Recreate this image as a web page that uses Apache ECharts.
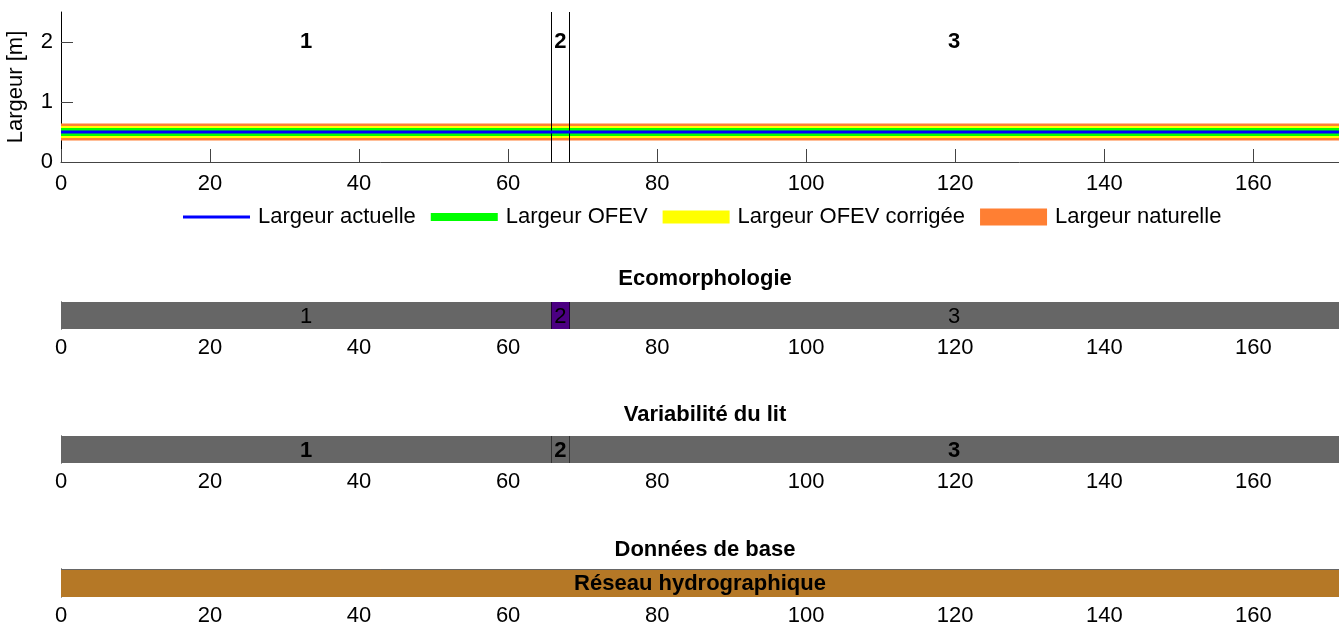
<!DOCTYPE html>
<html>
<head>
<meta charset="utf-8">
<script src="https://cdn.jsdelivr.net/npm/echarts@6/dist/echarts.min.js"></script>
<style>
  html, body { margin: 0; padding: 0; background: #fff; }
  #chart { width: 1339px; height: 625px; }
</style>
</head>
<body>
<div id="chart"></div>
<script>
// ---------- DATA ----------
const positions = [0, 65.8, 68.2, 171.5];          // segment boundaries (m along stream)
const segmentLabels = ['1', '2', '3'];
const largeurActuelle = [0.5, 0.5, 0.5, 0.5];
const largeurOFEV = [0.5, 0.5, 0.5, 0.5];
const largeurOFEVCorrigee = [0.5, 0.5, 0.5, 0.5];
const largeurNaturelle = [0.5, 0.5, 0.5, 0.5];
const ecomorphClasses = ['gris', 'violet', 'gris'];
const variabiliteClasses = ['gris', 'gris', 'gris'];
const donneesBase = ['Réseau hydrographique'];
const xTicks = [0, 20, 40, 60, 80, 100, 120, 140, 160];
const yTicks = [0, 1, 2];
const legendNames = ['Largeur actuelle', 'Largeur OFEV', 'Largeur OFEV corrigée', 'Largeur naturelle'];
const titles = ['Ecomorphologie', 'Variabilité du lit', 'Données de base'];

// ---------- STYLE ----------
const FONT = "'Liberation Sans', Arial, Helvetica, sans-serif";
const FS = 22;
const classColors = { gris: '#666666', violet: '#4b0082' };
const baseColor = '#b57826';
const X_MAX = positions[positions.length - 1];
const plotLeft = 61;

const ptsOf = arr => positions.map((x, i) => [x, arr[i]]);
const mids = segmentLabels.map((l, i) => [(positions[i] + positions[i + 1]) / 2, 2.0, l]);

function xAxisFor(gridIndex, main) {
  return {
    type: 'value', gridIndex, min: 0, max: X_MAX,
    axisLine: { show: main, lineStyle: { color: '#444', width: 1 } },
    axisTick: { show: main, inside: true, length: 13, customValues: xTicks, lineStyle: { color: '#444' } },
    axisLabel: { customValues: xTicks, color: '#000', fontSize: FS, fontFamily: FONT, margin: main ? 11 : 8 },
    splitLine: { show: false }
  };
}
function stripY(gridIndex) {
  return {
    type: 'value', gridIndex, min: 0, max: 1,
    axisLine: { show: true, onZero: false, lineStyle: { color: '#000', width: 1 } },
    axisTick: { show: false }, axisLabel: { show: false }, splitLine: { show: false }
  };
}
function stripSeries(idx, items, bold, topBorder, boundaries, boundaryColor) {
  return {
    type: 'custom', xAxisIndex: idx, yAxisIndex: idx, z: 2,
    data: items,
    renderItem(params, api) {
      const x0 = api.value(0), x1 = api.value(1);
      const pTL = api.coord([x0, 1]);
      const pBR = api.coord([x1, 0]);
      const item = items[params.dataIndex];
      const w = pBR[0] - pTL[0], h = pBR[1] - pTL[1];
      const children = [
        { type: 'rect', shape: { x: pTL[0], y: pTL[1], width: w, height: h }, style: { fill: item[3] } },
        { type: 'text', x: pTL[0] + w / 2, y: pTL[1] + h / 2 + 1,
          style: { text: item[2], fill: '#000', font: (bold ? 'bold ' : '') + FS + 'px ' + FONT, align: 'center', verticalAlign: 'middle' } }
      ];
      if (topBorder) children.push({ type: 'line', shape: { x1: pTL[0], y1: pTL[1] + 0.5, x2: pBR[0], y2: pTL[1] + 0.5 }, style: { stroke: '#666', lineWidth: 1 } });
      return { type: 'group', children };
    },
    markLine: boundaries ? {
      silent: true, symbol: 'none', label: { show: false },
      lineStyle: { color: boundaryColor, width: 1, type: 'solid' },
      data: boundaries.map(v => ({ xAxis: v }))
    } : undefined
  };
}
const segItems = (classes) => segmentLabels.map((l, i) => [positions[i], positions[i + 1], l, classColors[classes[i]]]);

const lineSeries = (name, arr, color, width, z) => ({
  name, type: 'line', xAxisIndex: 0, yAxisIndex: 0, data: ptsOf(arr), symbol: 'none', z,
  color, lineStyle: { color, width, cap: 'butt' }, silent: true
});
const iconPath = (h) => {
  const y0 = (17 - h) / 2, y1 = y0 + h;
  return `path://M0,0 M67,17 M0,${y0} L67,${y0} L67,${y1} L0,${y1} Z`;
};

const gridBase = { left: plotLeft, right: 0, outerBoundsMode: 'none', containLabel: false };

const chart = echarts.init(document.getElementById('chart'), null, { renderer: 'canvas' });
chart.setOption({
  animation: false,
  backgroundColor: '#fff',
  textStyle: { fontFamily: FONT },
  title: titles.map((t, i) => ({
    text: t, left: 700, top: [263, 399, 534][i], textAlign: 'center',
    textStyle: { fontSize: FS, fontWeight: 'bold', color: '#000', fontFamily: FONT }
  })),
  legend: {
    left: 178, top: 201, itemWidth: 67, itemHeight: 17, itemGap: 15,
    textStyle: { fontSize: FS, color: '#000', fontFamily: FONT, padding: [0, 0, 0, 3] },
    data: [
      { name: legendNames[0], icon: iconPath(3) },
      { name: legendNames[1], icon: iconPath(8) },
      { name: legendNames[2], icon: iconPath(13) },
      { name: legendNames[3], icon: iconPath(17) }
    ]
  },
  grid: [
    Object.assign({ top: 12, height: 150 }, gridBase),
    Object.assign({ top: 302, height: 27 }, gridBase),
    Object.assign({ top: 436, height: 27 }, gridBase),
    Object.assign({ top: 569, height: 28 }, gridBase)
  ],
  xAxis: [xAxisFor(0, true), xAxisFor(1, false), xAxisFor(2, false), xAxisFor(3, false)],
  yAxis: [
    {
      type: 'value', gridIndex: 0, min: 0, max: 2.5,
      name: 'Largeur [m]', nameLocation: 'middle', nameGap: 34, nameRotate: 90,
      nameTextStyle: { fontSize: FS, color: '#000', fontFamily: FONT },
      axisLine: { show: true, lineStyle: { color: '#000', width: 1 } },
      axisTick: { show: true, inside: true, length: 12, customValues: yTicks, lineStyle: { color: '#444' } },
      axisLabel: { customValues: yTicks, color: '#000', fontSize: FS, fontFamily: FONT, margin: 8 },
      splitLine: { show: false }
    },
    stripY(1), stripY(2), stripY(3)
  ],
  series: [
    lineSeries(legendNames[3], largeurNaturelle, '#ff7f33', 17, 2),
    lineSeries(legendNames[2], largeurOFEVCorrigee, '#ffff00', 12, 3),
    lineSeries(legendNames[1], largeurOFEV, '#00ff00', 8, 4),
    lineSeries(legendNames[0], largeurActuelle, '#0000ff', 3, 5),
    {
      type: 'scatter', xAxisIndex: 0, yAxisIndex: 0, data: mids, symbolSize: 0, z: 6, silent: true,
      itemStyle: { opacity: 1 },
      label: { show: true, position: 'inside', formatter: p => p.data[2], fontSize: FS, fontWeight: 'bold', color: '#000', fontFamily: FONT, opacity: 1 },
      markLine: {
        silent: true, symbol: 'none', label: { show: false },
        lineStyle: { color: '#000', width: 1, type: 'solid' },
        data: positions.slice(1, -1).map(v => ({ xAxis: v }))
      }
    },
    stripSeries(1, segItems(ecomorphClasses), false, false, positions.slice(1, -1), '#1a0030'),
    stripSeries(2, segItems(variabiliteClasses), true, false, positions.slice(1, -1), '#333'),
    stripSeries(3, [[positions[0], X_MAX, donneesBase[0], baseColor]], true, true, null, null)
  ]
});
</script>
</body>
</html>
